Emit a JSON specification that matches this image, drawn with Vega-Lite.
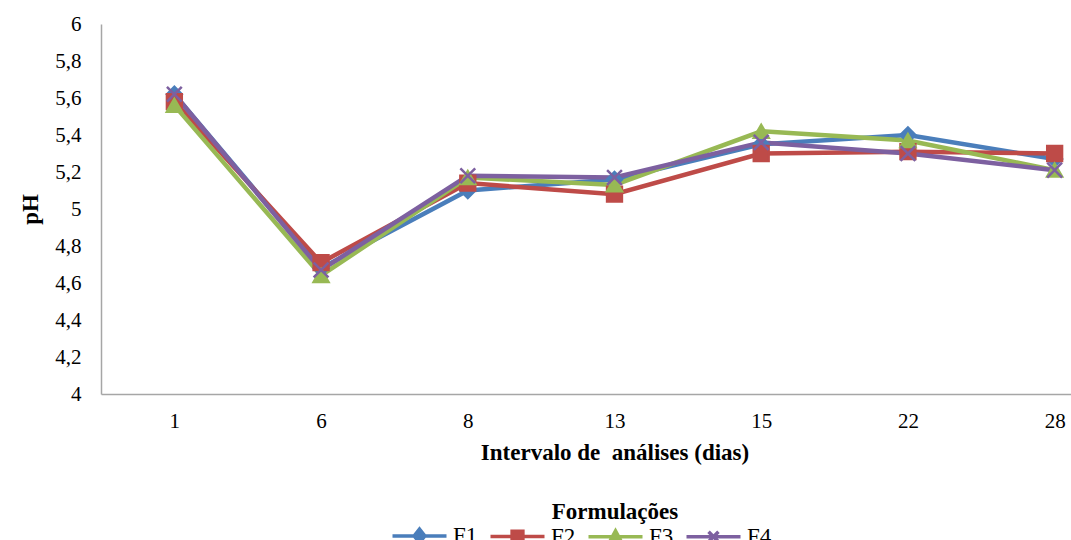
{
  "$schema": "https://vega.github.io/schema/vega-lite/v6.json",
  "width": 1027,
  "height": 370,
  "autosize": "none",
  "padding": {"left": 101, "top": 24, "right": 0, "bottom": 146},
  "background": "white",
  "config": {
    "view": {"stroke": null},
    "font": "Liberation Serif",
    "axis": {"grid": false, "ticks": false, "domainColor": "#A6A6A6", "domainWidth": 1.5, "labelFont": "Liberation Serif", "labelFontSize": 21, "labelColor": "#000000", "titleFont": "Liberation Serif", "titleFontSize": 23, "titleFontWeight": "bold", "titleColor": "#000000"}
  },
  "data": {"values": [
    {"dia": "1", "F": "F1", "pH": 5.62},
    {"dia": "1", "F": "F2", "pH": 5.58},
    {"dia": "1", "F": "F3", "pH": 5.56},
    {"dia": "1", "F": "F4", "pH": 5.62},
    {"dia": "6", "F": "F1", "pH": 4.68},
    {"dia": "6", "F": "F2", "pH": 4.71},
    {"dia": "6", "F": "F3", "pH": 4.64},
    {"dia": "6", "F": "F4", "pH": 4.67},
    {"dia": "8", "F": "F1", "pH": 5.10},
    {"dia": "8", "F": "F2", "pH": 5.14},
    {"dia": "8", "F": "F3", "pH": 5.17},
    {"dia": "8", "F": "F4", "pH": 5.18},
    {"dia": "13", "F": "F1", "pH": 5.16},
    {"dia": "13", "F": "F2", "pH": 5.08},
    {"dia": "13", "F": "F3", "pH": 5.13},
    {"dia": "13", "F": "F4", "pH": 5.17},
    {"dia": "15", "F": "F1", "pH": 5.35},
    {"dia": "15", "F": "F2", "pH": 5.30},
    {"dia": "15", "F": "F3", "pH": 5.42},
    {"dia": "15", "F": "F4", "pH": 5.36},
    {"dia": "22", "F": "F1", "pH": 5.40},
    {"dia": "22", "F": "F2", "pH": 5.31},
    {"dia": "22", "F": "F3", "pH": 5.37},
    {"dia": "22", "F": "F4", "pH": 5.30},
    {"dia": "28", "F": "F1", "pH": 5.27},
    {"dia": "28", "F": "F2", "pH": 5.30},
    {"dia": "28", "F": "F3", "pH": 5.21},
    {"dia": "28", "F": "F4", "pH": 5.21}
  ]},
  "encoding": {
    "x": {
      "field": "dia", "type": "ordinal",
      "sort": ["1", "6", "8", "13", "15", "22", "28"],
      "scale": {"type": "point", "padding": 0.5},
      "axis": {"title": "Intervalo de\u00a0 análises (dias)", "labelFont": "Liberation Serif", "labelAngle": 0, "labelPadding": 16, "titlePadding": 10}
    },
    "y": {
      "field": "pH", "type": "quantitative",
      "scale": {"domain": [4, 6], "nice": false, "zero": false},
      "axis": {"title": "pH", "labelFont": "Liberation Serif", "values": [4, 4.2, 4.4, 4.6, 4.8, 5, 5.2, 5.4, 5.6, 5.8, 6], "labelExpr": "replace(format(datum.value, '.1~f'), '.', ',')", "labelPadding": 20, "titlePadding": 12}
    }
  },
  "layer": [
    {
      "mark": {"type": "line", "strokeWidth": 4.5},
      "encoding": {
        "color": {"field": "F", "type": "nominal", "scale": {"domain": ["F1", "F2", "F3", "F4"], "range": ["#4A7EBB", "#BE4B48", "#98B954", "#7D60A0"]}, "legend": null}
      }
    },
    {
      "mark": {"type": "point", "filled": true, "opacity": 1, "strokeWidth": 2.5, "size": 220},
      "encoding": {
        "color": {"field": "F", "type": "nominal", "scale": {"domain": ["F1", "F2", "F3", "F4"], "range": ["#4A7EBB", "#BE4B48", "#98B954", "#7D60A0"]}, "legend": null},
        "stroke": {"field": "F", "type": "nominal", "scale": {"domain": ["F1", "F2", "F3", "F4"], "range": ["#4A7EBB", "#BE4B48", "#98B954", "#7D60A0"]}, "legend": null},
        "shape": {"field": "F", "type": "nominal", "scale": {"domain": ["F1", "F2", "F3", "F4"], "range": ["diamond", "square", "triangle-up", "M-1,-1L1,1M-1,1L1,-1"]}, "legend": null}
      }
    },
    {
      "mark": {"type": "point", "filled": true, "opacity": 0, "strokeWidth": 3.5, "size": 324},
      "encoding": {
        "color": {"field": "F", "type": "nominal", "scale": {"domain": ["F1", "F2", "F3", "F4"], "range": ["#4A7EBB", "#BE4B48", "#98B954", "#7D60A0"]}, "legend": {"title": "Formulações", "orient": "none", "legendX": 307, "legendY": 477, "direction": "horizontal", "titleAnchor": "middle", "titleFontSize": 23, "titleFontWeight": "bold", "titleFont": "Liberation Serif", "titleColor": "#000000", "titlePadding": 0, "labelFont": "Liberation Serif", "labelFontSize": 23, "labelColor": "#000000", "labelOffset": 22, "columnPadding": 5, "symbolOpacity": 1, "symbolStrokeWidth": 3.5, "symbolSize": 324, "encode": {"title": {"update": {"dx": {"value": 25}}}}}},
        "stroke": {"field": "F", "type": "nominal", "scale": {"domain": ["F1", "F2", "F3", "F4"], "range": ["#4A7EBB", "#BE4B48", "#98B954", "#7D60A0"]}, "legend": {"title": "Formulações", "orient": "none", "legendX": 307, "legendY": 477, "direction": "horizontal", "titleAnchor": "middle", "titleFontSize": 23, "titleFontWeight": "bold", "titleFont": "Liberation Serif", "titleColor": "#000000", "titlePadding": 0, "labelFont": "Liberation Serif", "labelFontSize": 23, "labelColor": "#000000", "labelOffset": 22, "columnPadding": 5, "symbolOpacity": 1, "symbolStrokeWidth": 3.5, "symbolSize": 324, "encode": {"title": {"update": {"dx": {"value": 25}}}}}},
        "shape": {"field": "F", "type": "nominal", "scale": {"domain": ["F1", "F2", "F3", "F4"], "range": ["M-3,0H3M0,-0.75L0.6,0L0,0.75L-0.6,0Z", "M-3,0H3M-0.6,-0.6H0.6V0.6H-0.6Z", "M-3,0H3M0,-0.65L0.65,0.55H-0.65Z", "M-3,0H3M-0.55,-0.55L0.55,0.55M-0.55,0.55L0.55,-0.55"]}, "legend": {"title": "Formulações", "orient": "none", "legendX": 307, "legendY": 477, "direction": "horizontal", "titleAnchor": "middle", "titleFontSize": 23, "titleFontWeight": "bold", "titleFont": "Liberation Serif", "titleColor": "#000000", "titlePadding": 0, "labelFont": "Liberation Serif", "labelFontSize": 23, "labelColor": "#000000", "labelOffset": 22, "columnPadding": 5, "symbolOpacity": 1, "symbolStrokeWidth": 3.5, "symbolSize": 324, "encode": {"title": {"update": {"dx": {"value": 25}}}}}}
      }
    }
  ],
  "resolve": {"scale": {"shape": "independent"}, "legend": {"shape": "independent", "color": "independent", "stroke": "independent"}}
}
